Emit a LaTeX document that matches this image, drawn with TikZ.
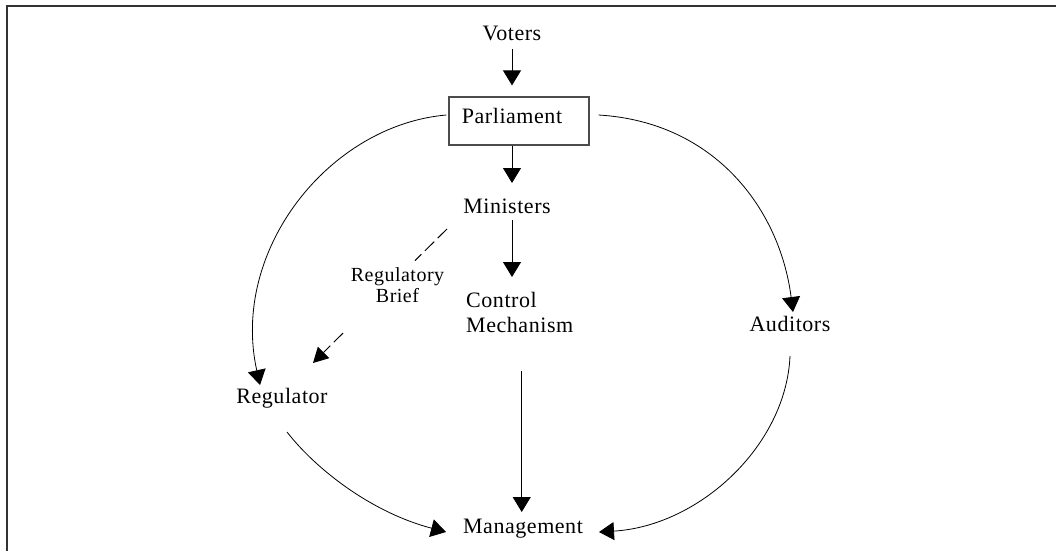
\documentclass[tikz,border=0pt]{standalone}
\usepackage{fontspec}
\setmainfont[LetterSpace=2.5]{Liberation Serif}
\usetikzlibrary{arrows.meta,calc}
\begin{document}
\begin{tikzpicture}[x=1pt,y=-1pt,
  lbl/.style={inner sep=0pt, anchor=base, font=\fontsize{22}{25}\selectfont},
  conn/.style={line width=0.8pt, -{Triangle[length=15pt,width=18pt]}},
  dashy/.style={line width=1pt, dash pattern=on 13pt off 5pt},
  frameline/.style={line width=2pt, draw=black!80}
]
\useasboundingbox (0,0) rectangle (1056,551);
\draw[frameline] (1056,6.5) -- (7,6.5) -- (7,551);

\node[lbl] (voters) at (512,41) {Voters};
\node[draw=black!70, line width=1.2pt, inner sep=0pt, minimum width=140pt,
      minimum height=48pt, font=\fontsize{22}{25}\selectfont]
      (parl) at (519,121) {\raisebox{10pt}{Parliament\hspace{14pt}}};
\node[lbl] (ministers) at (507,213) {Ministers};
\node[lbl, anchor=north west, align=left] (control) at (466,292) {Control\\Mechanism};
\node[lbl] (mgmt) at (523,533) {Management};
\node[lbl] (reg) at (282,403) {Regulator};
\node[lbl] (aud) at (790,331) {Auditors};
\node[inner sep=0pt, align=center, font=\fontsize{20}{21}\selectfont]
      (brief) at (397.5,285.3) {Regulatory\\Brief};

% vertical chain
\draw[conn] ($(voters.base)+(0,8)$) -- ($(voters.base |- parl.north)+(0,-11)$);
\draw[conn] (voters.base |- parl.south) -- ($(voters.base |- ministers.base)+(0,-30)$);
\draw[conn] ($(voters.base |- ministers.base)+(0,7)$) -- ($(voters.base |- control.north)+(0,-15)$);
\draw[conn] ($(control.south)+(2,38)$) -- ($(control.south |- mgmt.base)+(2,-21)$);

% arcs
\draw[conn] ($(parl.west)+(-2,-6)$) .. controls +(-117,10) and +(-30,-135) .. ($(reg.base)+(-22,-18)$);
\draw[conn] ($(parl.east)+(9,-6)$) .. controls +(117,7) and +(-13,-102) .. ($(aud.base)+(3,-19)$);
\draw[conn] ($(reg.base)+(5,29)$) .. controls +(28,36) and +(-76,-20) .. ($(mgmt.base)+(-77,-1)$);
\draw[conn] ($(aud.base)+(0,25)$) .. controls +(-4,90) and +(100,-6) .. ($(mgmt.base)+(76,-1)$);

% dashed regulatory brief
\draw[dashy] ($(ministers.base)+(-60,16)$) -- ($(brief.north)+(17.5,-7)$);
\draw[dashy, -{Triangle[length=15pt,width=16pt]}] ($(brief.south)+(-54.5,30)$) -- ($(reg.base)+(31,-40)$);
\end{tikzpicture}
\end{document}
